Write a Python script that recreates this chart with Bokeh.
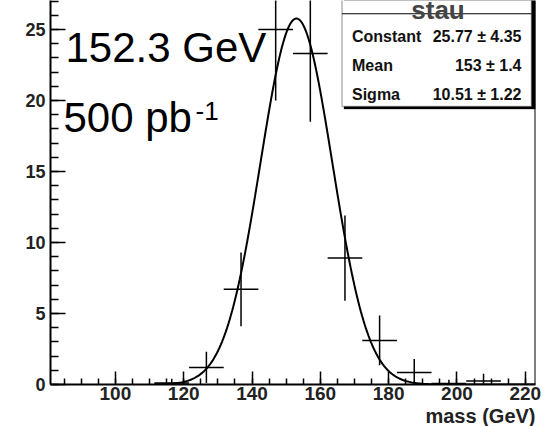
import numpy as np
from bokeh.plotting import figure
from bokeh.models import Range1d, SingleIntervalTicker, Label, BoxAnnotation, Span, Title
from bokeh.embed import file_html
from bokeh.resources import INLINE

# ---- data ----
x_lo, x_hi = 81.0, 223.0
n_bins = 14
bin_values = [0, 0, 0, 0.1, 1.2, 6.7, 25.0, 23.3, 8.9, 3.1, 0.85, 0.07, 0.25, 0]
bin_errors = [0, 0, 0, 0.3, 1.1, 2.6, 5.0, 4.8, 3.0, 1.75, 0.95, 0.26, 0.5, 0]
fit_constant, fit_mean, fit_sigma = 25.77, 153.0, 10.51
fit_range = (111.4, 223.0)
stat_names = ["Constant", "Mean", "Sigma"]
stat_values = ["25.77 \u00b1 4.35", "153 \u00b1 1.4", "10.51 \u00b1 1.22"]
x_ticks_interval = 20
y_ticks_interval = 5

FONT = "Liberation Sans"
Y_TOP = 27.04

p = figure(frame_width=485, frame_height=384, min_border_left=50, min_border_right=15,
           min_border_top=0, min_border_bottom=0,
           x_range=Range1d(x_lo, x_hi), y_range=Range1d(0, Y_TOP),
           output_backend="svg", toolbar_location=None)
p.grid.visible = False
p.outline_line_color = None
p.background_fill_color = "white"
p.border_fill_color = "white"

def px_x(px):
    return x_lo + (px - 50) * (x_hi - x_lo) / 485.0

def px_y(py):
    return Y_TOP * (384 - py) / 384.0

# axes
for ax in (p.xaxis[0], p.yaxis[0]):
    ax.axis_line_width = 2
    ax.major_tick_line_width = 1.5
    ax.minor_tick_line_width = 1.5
    ax.major_tick_out = 0
    ax.minor_tick_out = 0
    ax.major_label_text_font = FONT
    ax.major_label_text_font_style = "bold"
    ax.major_label_text_color = "#222222"
p.xaxis[0].ticker = SingleIntervalTicker(interval=x_ticks_interval, num_minor_ticks=4)
p.yaxis[0].ticker = SingleIntervalTicker(interval=y_ticks_interval, num_minor_ticks=5)
p.xaxis[0].major_tick_in = 13
p.xaxis[0].minor_tick_in = 6
p.yaxis[0].major_tick_in = 15
p.yaxis[0].minor_tick_in = 8
p.xaxis[0].major_label_text_font_size = "19px"
p.yaxis[0].major_label_text_font_size = "18px"
p.xaxis[0].major_label_standoff = 2
p.yaxis[0].major_label_standoff = 5

# x axis title, right aligned below the tick labels
p.add_layout(Title(text="mass (GeV)", align="right", text_font=FONT, text_font_size="20px",
                   text_font_style="bold", text_color="#222222", standoff=0, offset=0), "below")

# right frame border
p.add_layout(Span(location=x_hi, dimension="height", line_color="black", line_width=2))

# histogram crosses
width = (x_hi - x_lo) / n_bins
edges = [x_lo + i * width for i in range(n_bins + 1)]
cx, lo_e, hi_e, vals, errs = [], [], [], [], []
for i in range(n_bins):
    if bin_values[i] > 0:
        cx.append((edges[i] + edges[i + 1]) / 2)
        lo_e.append(edges[i])
        hi_e.append(edges[i + 1])
        vals.append(bin_values[i])
        errs.append(bin_errors[i])
cx = np.array(cx); vals = np.array(vals); errs = np.array(errs)
p.segment(x0=lo_e, y0=vals, x1=hi_e, y1=vals, line_color="black", line_width=1.5)
p.segment(x0=cx, y0=np.maximum(vals - errs, 0), x1=cx, y1=vals + errs,
          line_color="black", line_width=1.5)

# gaussian fit
xf = np.linspace(fit_range[0], fit_range[1], 300)
yf = fit_constant * np.exp(-0.5 * ((xf - fit_mean) / fit_sigma) ** 2)
p.line(xf, yf, line_color="black", line_width=2)

# big labels
p.add_layout(Label(x=px_x(65), y=px_y(47), text="152.3 GeV", text_font=FONT,
                   text_font_size="42px", text_color="black", text_baseline="alphabetic"))
p.add_layout(Label(x=px_x(63), y=px_y(117), text="500 pb", text_font=FONT,
                   text_font_size="42px", text_color="black", text_baseline="alphabetic"))
p.add_layout(Label(x=px_x(195), y=px_y(110), text="-1", text_font=FONT,
                   text_font_size="26px", text_color="black", text_baseline="alphabetic"))

# stats box
p.add_layout(BoxAnnotation(left=px_x(343.5), right=px_x(535), bottom=px_y(108.5), top=Y_TOP + 5,
                           fill_color="black", fill_alpha=1, line_color="black"))
p.add_layout(BoxAnnotation(left=px_x(341.5), right=px_x(531), bottom=px_y(106), top=Y_TOP + 5,
                           fill_color="white", fill_alpha=1, line_color="black", line_width=1.5))
p.add_layout(BoxAnnotation(left=px_x(341.5), right=px_x(531), bottom=px_y(13.8), top=px_y(12.8),
                           fill_color="black", fill_alpha=1, line_color=None))
p.add_layout(Label(x=px_x(437.5), y=px_y(9), text="stau", text_font=FONT, text_font_size="26px",
                   text_font_style="bold", text_align="center", text_baseline="alphabetic"))
for name, val, base in zip(stat_names, stat_values, [35.5, 64.5, 94]):
    p.add_layout(Label(x=px_x(351.5), y=px_y(base), text=name, text_font=FONT, text_font_size="16px",
                       text_font_style="bold", text_baseline="alphabetic", text_color="#111111"))
    p.add_layout(Label(x=px_x(521), y=px_y(base), text=val, text_font=FONT, text_font_size="16px",
                       text_font_style="bold", text_align="right", text_baseline="alphabetic",
                       text_color="#111111"))

open("out.html", "w").write(file_html(p, INLINE))
